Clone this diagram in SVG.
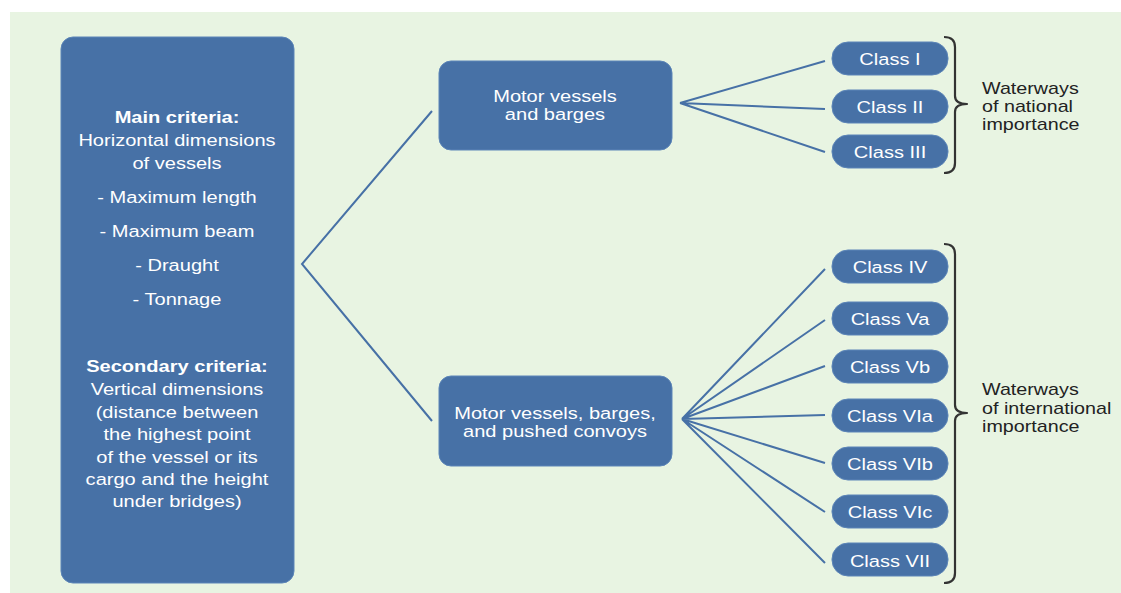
<svg xmlns="http://www.w3.org/2000/svg" width="1121" height="593" viewBox="0 0 1121 593">
<style>
.box{fill:#4771a6;stroke:#5c85b8;stroke-width:1}
.t{font-family:"Liberation Sans",Arial,sans-serif;font-size:17px;fill:#ffffff;text-anchor:middle}
.b{font-weight:bold}
.w{font-family:"Liberation Sans",Arial,sans-serif;font-size:17px;fill:#222222}
.ln{stroke:#4771a6;stroke-width:2;fill:none}
.br{stroke:#333333;stroke-width:2.2;fill:none;stroke-linejoin:round}
</style>
<rect x="0" y="0" width="1121" height="593" fill="#ffffff"/>
<rect x="10" y="12" width="1111" height="581" fill="#e8f4e2"/>

<g id="connectors">
<path class="ln" d="M432 111 L302 264 L432 421"/>
<path class="ln" d="M680 103 L825 61 M680 103 L825 109 M680 103 L825 152"/>
<path class="ln" d="M682 419 L825 269 M682 419 L825 320 M682 419 L825 366 M682 419 L825 415 M682 419 L825 463 M682 419 L825 512 M682 419 L825 563"/>
</g>

<g id="criteria">
<rect class="box" x="61" y="37" width="233" height="546" rx="12"/>
<g transform="translate(177 0) scale(1.18 1)">
<text class="t b" x="0" y="123">Main criteria:</text>
<text class="t" x="0" y="146">Horizontal dimensions</text>
<text class="t" x="0" y="169">of vessels</text>
<text class="t" x="0" y="203">- Maximum length</text>
<text class="t" x="0" y="237">- Maximum beam</text>
<text class="t" x="0" y="271">- Draught</text>
<text class="t" x="0" y="305">- Tonnage</text>
<text class="t b" x="0" y="372">Secondary criteria:</text>
<text class="t" x="0" y="395">Vertical dimensions</text>
<text class="t" x="0" y="418">(distance between</text>
<text class="t" x="0" y="440">the highest point</text>
<text class="t" x="0" y="463">of the vessel or its</text>
<text class="t" x="0" y="485">cargo and the height</text>
<text class="t" x="0" y="507">under bridges)</text>
</g>
</g>

<g id="motor-barges">
<rect class="box" x="439" y="61" width="233" height="89" rx="12"/>
<g transform="translate(555 0) scale(1.18 1)">
<text class="t" x="0" y="102">Motor vessels</text>
<text class="t" x="0" y="120">and barges</text>
</g>
</g>

<g id="motor-convoys">
<rect class="box" x="439" y="376" width="233" height="90" rx="12"/>
<g transform="translate(555 0) scale(1.18 1)">
<text class="t" x="0" y="419">Motor vessels, barges,</text>
<text class="t" x="0" y="437">and pushed convoys</text>
</g>
</g>

<g id="class-I"><rect class="box" x="832" y="42" width="116" height="33" rx="16"/><text class="t" transform="translate(890 65) scale(1.18 1)">Class I</text></g>
<g id="class-II"><rect class="box" x="832" y="90" width="116" height="33" rx="16"/><text class="t" transform="translate(890 113) scale(1.18 1)">Class II</text></g>
<g id="class-III"><rect class="box" x="832" y="135" width="116" height="33" rx="16"/><text class="t" transform="translate(890 158) scale(1.18 1)">Class III</text></g>
<g id="class-IV"><rect class="box" x="832" y="250" width="116" height="33" rx="16"/><text class="t" transform="translate(890 273) scale(1.18 1)">Class IV</text></g>
<g id="class-Va"><rect class="box" x="832" y="302" width="116" height="33" rx="16"/><text class="t" transform="translate(890 325) scale(1.18 1)">Class Va</text></g>
<g id="class-Vb"><rect class="box" x="832" y="350" width="116" height="33" rx="16"/><text class="t" transform="translate(890 373) scale(1.18 1)">Class Vb</text></g>
<g id="class-VIa"><rect class="box" x="832" y="399" width="116" height="33" rx="16"/><text class="t" transform="translate(890 422) scale(1.18 1)">Class VIa</text></g>
<g id="class-VIb"><rect class="box" x="832" y="447" width="116" height="33" rx="16"/><text class="t" transform="translate(890 470) scale(1.18 1)">Class VIb</text></g>
<g id="class-VIc"><rect class="box" x="832" y="495" width="116" height="33" rx="16"/><text class="t" transform="translate(890 518) scale(1.18 1)">Class VIc</text></g>
<g id="class-VII"><rect class="box" x="832" y="543" width="116" height="33" rx="16"/><text class="t" transform="translate(890 567) scale(1.18 1)">Class VII</text></g>

<g id="national">
<path class="br" d="M944 37 Q955 37 955 47 L955 96 Q955 104 967 104 Q955 104 955 112 L955 163 Q955 173 944 173"/>
<g transform="translate(982 0) scale(1.16 1)">
<text class="w" x="0" y="94">Waterways</text>
<text class="w" x="0" y="112">of national</text>
<text class="w" x="0" y="130">importance</text>
</g>
</g>

<g id="international">
<path class="br" d="M944 244 Q955 244 955 254 L955 405 Q955 413 967 413 Q955 413 955 421 L955 573 Q955 583 944 583"/>
<g transform="translate(982 0) scale(1.16 1)">
<text class="w" x="0" y="395">Waterways</text>
<text class="w" x="0" y="414">of international</text>
<text class="w" x="0" y="432">importance</text>
</g>
</g>
</svg>
